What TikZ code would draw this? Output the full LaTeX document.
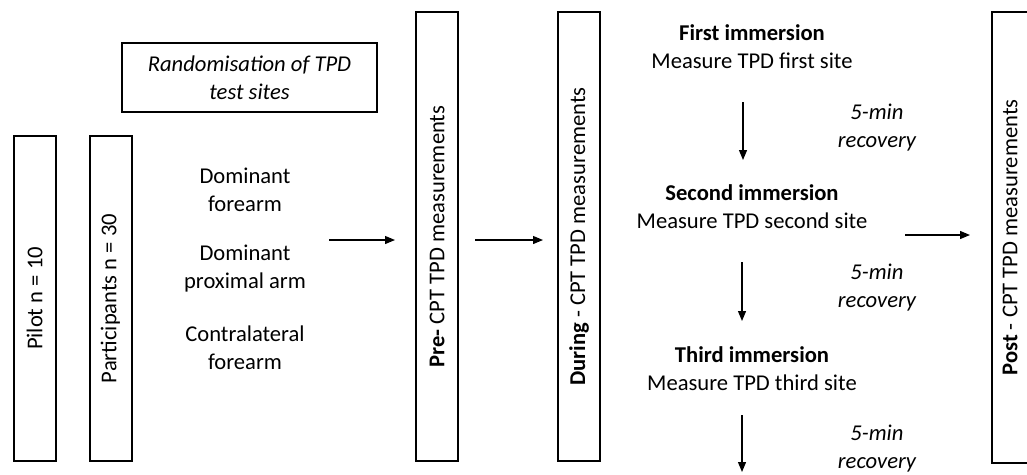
\documentclass[tikz,border=0pt]{standalone}
\usepackage{fontspec}
\setmainfont{Carlito}
\usetikzlibrary{arrows.meta}
\begin{document}
\begin{tikzpicture}[x=1pt,y=-1pt,
  txt/.style={font=\fontsize{22.6}{28}\selectfont, align=center, inner sep=0pt},
  vbox/.style={draw, line width=2pt, rotate=90, minimum height=42pt, inner sep=0pt, font=\fontsize{22.6}{28}\selectfont},
  hbox/.style={draw, line width=2pt, inner sep=0pt, align=center, font=\fontsize{22.6}{28}\selectfont\itshape},
  arr/.style={line width=1.2pt, -{Triangle[length=10pt,width=8pt]}}]
\useasboundingbox (0,0) rectangle (1027,474);
\clip (0,0) rectangle (1027,474);
% boxes
\node[vbox, minimum width=325pt] (pilot) at (34.5,298.5) {Pilot n = 10};
\node[vbox, minimum width=325pt] (part) at (110.5,298.5) {Participants n = 30};
\node[hbox, minimum width=255pt, minimum height=69pt] (rand) at (249.5,77.5) {Randomisation of TPD\\test sites};
\node[vbox, minimum width=449pt] (pre) at (437,236.5) {\textbf{Pre-} CPT TPD measurements};
\node[vbox, minimum width=449pt] (during) at (579,236.5) {\textbf{During} - CPT TPD measurements};
\node[vbox, minimum width=451pt, minimum height=36pt] (post) at (1010,237.5) {\textbf{Post} - CPT TPD measurements};
% sites
\node[txt] (s1) at (245,190) {Dominant\\forearm};
\node[txt] (s2) at (245,269) {Dominant\\proximal arm};
\node[txt] (s3) at (245,348) {Contralateral\\forearm};
% immersions
\node[txt] (i1) at (752,47) {\textbf{First immersion}\\Measure TPD first site};
\node[txt] (i2) at (752,207) {\textbf{Second immersion}\\Measure TPD second site};
\node[txt] (i3) at (752,368.5) {\textbf{Third immersion}\\Measure TPD third site};
% recovery
\node[txt, font=\fontsize{22.6}{28}\selectfont\itshape] (r1) at (877,127.5) {5-min\\recovery};
\node[txt, font=\fontsize{22.6}{28}\selectfont\itshape] (r2) at (877,288) {5-min\\recovery};
\node[txt, font=\fontsize{22.6}{28}\selectfont\itshape] (r3) at (877,448.5) {5-min\\recovery};
% arrow coordinates
\coordinate (a1s) at (329,240); \coordinate (a1e) at (395,240);
\coordinate (a2s) at (475,240); \coordinate (a2e) at (543,240);
\coordinate (a3s) at (905,235); \coordinate (a3e) at (970,235);
\coordinate (d1s) at (743,102); \coordinate (d1e) at (743,160);
\coordinate (d2s) at (742,262); \coordinate (d2e) at (742,321);
\coordinate (d3s) at (742,415); \coordinate (d3e) at (742,472);
\draw[arr] (a1s) -- (a1e);
\draw[arr] (a2s) -- (a2e);
\draw[arr] (a3s) -- (a3e);
\draw[arr] (d1s) -- (d1e);
\draw[arr] (d2s) -- (d2e);
\draw[arr] (d3s) -- (d3e);
\end{tikzpicture}
\end{document}
